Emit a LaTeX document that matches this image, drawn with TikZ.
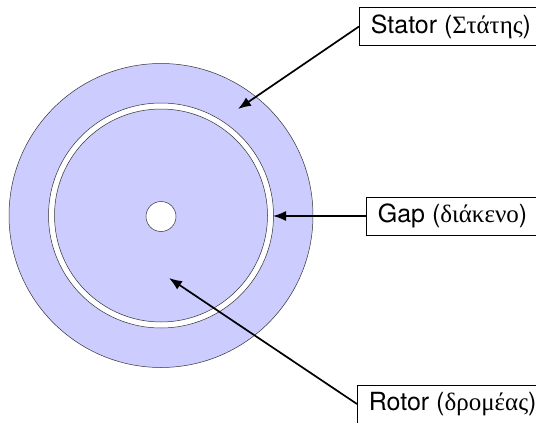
\documentclass[tikz,border=0pt]{standalone}
\usepackage{fontspec}
\setmainfont{TeX Gyre Heros}
\newfontfamily\grk{Liberation Serif}
\usetikzlibrary{arrows.meta}

\begin{document}
\begin{tikzpicture}[x=1pt, y=-1pt,
    part/.style={draw=black!80, line width=0.5pt},
    lbl/.style={rectangle, draw, line width=0.7pt, anchor=west, minimum height=38pt,
                inner xsep=11.5pt, font=\fontsize{25}{29}\selectfont},
    pointer/.style={-{Latex[length=13pt, width=10pt]}, line width=1.7pt}]
    \clip (0,0) rectangle (536,423);
    \fill[white] (0,0) rectangle (536,423);
    \path[part, fill=blue!20] (161,215.5) circle (152);
    \path[part, fill=white]   (161,215.5) circle (112.5);
    \path[part, fill=blue!20] (161,215.5) circle (106.5);
    \path[part, fill=white]   (161,216.5) circle (15);
    \node[lbl] (stator) at (359,26.5) {Stator ({\grk Στάτης})};
    \node[lbl] (gap)    at (366,216)  {Gap ({\grk διάκενο})};
    \node[lbl] (rotor)  at (357,404)  {Rotor ({\grk δρομέας})};
    \coordinate (ts) at (238,109);
    \coordinate (tg) at (273,216);
    \coordinate (tr) at (169,278);
    \draw[pointer] (stator.west)--(ts); \draw[pointer] (gap.west)--(tg);
    \draw[pointer] (rotor.west)--(tr);
\end{tikzpicture}
\end{document}
